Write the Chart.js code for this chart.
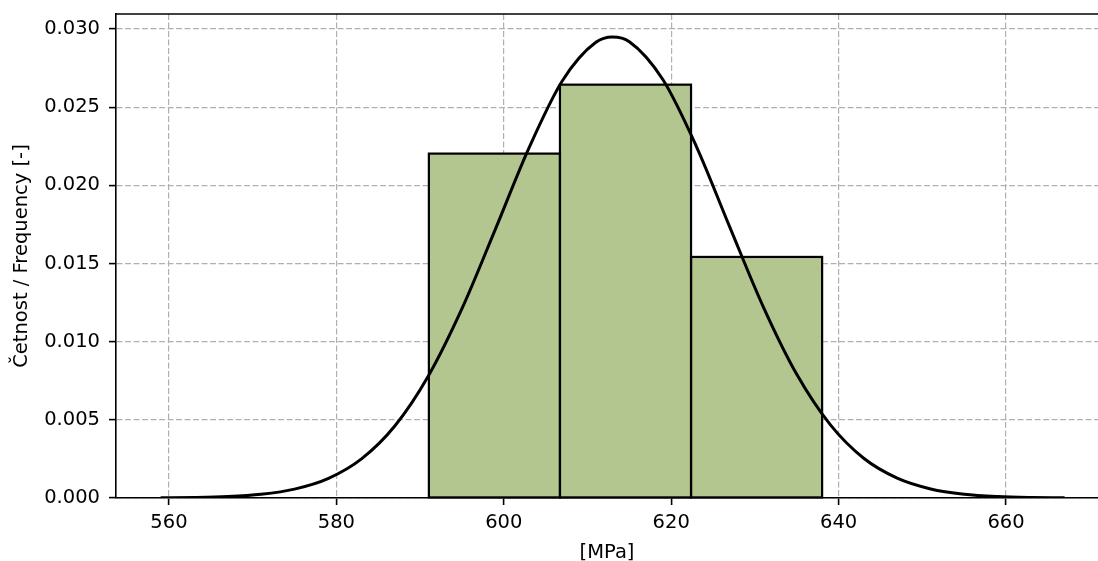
<!DOCTYPE html>
<html><head><meta charset="utf-8">
<script src="https://cdn.jsdelivr.net/npm/chart.js@4/dist/chart.umd.min.js"></script>
<style>html,body{margin:0;padding:0;background:#fff;overflow:hidden}#wrap{width:1098px;height:561px;position:relative}</style>
</head><body><div id="wrap"><canvas id="c"></canvas></div>
<script>
// Histogram bins (centres) and density heights
const binCenters = [598.88, 614.54, 630.20];
const binDensity = [0.02203, 0.02644, 0.01542];
// Fitted curve
const curveX = [559, 563, 567, 571, 575, 579, 583, 587, 591, 595, 599, 603, 607, 611, 613, 615, 619, 623, 627, 631, 635, 639, 643, 647, 651, 655, 659, 663, 667];
const curveY = [0.00001, 0.00003, 0.00009, 0.00024, 0.00057, 0.00124, 0.00250, 0.00462, 0.00782, 0.01211, 0.01720, 0.02238, 0.02669, 0.02915, 0.02949, 0.02919, 0.02677, 0.02250, 0.01733, 0.01223, 0.00791, 0.00469, 0.00254, 0.00127, 0.00058, 0.00024, 0.00009, 0.00003, 0.00001];
const xTicks = [560, 580, 600, 620, 640, 660];
const yTicks = [0, 0.005, 0.010, 0.015, 0.020, 0.025, 0.030];
const xLabel = '[MPa]';
const yLabel = 'Četnost / Frequency [-]';

const FONT = 'DejaVu Sans';
const tickFont = {family: FONT, size: 19.5};
const titleFont = {family: FONT, size: 19.5, lineHeight: 1};

const barEdges = {
  id: 'barEdges',
  afterDatasetDraw(chart, args) {
    if (args.meta.type !== 'bar') return;
    const ctx = chart.ctx;
    ctx.save();
    ctx.lineWidth = 2.2; ctx.strokeStyle = '#000'; ctx.lineJoin = 'miter';
    args.meta.data.forEach(el => {
      const p = el.getProps(['x', 'y', 'base', 'width'], true);
      ctx.strokeRect(p.x - p.width / 2, p.y, p.width, p.base - p.y);
    });
    ctx.restore();
  }
};
const topSpine = {
  id: 'topSpine',
  afterDatasetsDraw(chart) {
    const {ctx, chartArea} = chart;
    ctx.save();
    ctx.lineWidth = 1.6; ctx.strokeStyle = '#000';
    ctx.beginPath();
    ctx.moveTo(chartArea.left - 0.8, chartArea.top);
    ctx.lineTo(chartArea.right + 2, chartArea.top);
    ctx.stroke();
    ctx.restore();
  }
};

new Chart(document.getElementById('c'), {
  type: 'bar',
  data: {
    datasets: [
      {
        type: 'line',
        data: curveX.map((x, i) => ({x: x, y: curveY[i]})),
        borderColor: '#000',
        borderWidth: 3,
        pointRadius: 0,
        fill: false,
        cubicInterpolationMode: 'monotone'
      },
      {
        type: 'bar',
        data: binCenters.map((x, i) => ({x: x, y: binDensity[i]})),
        backgroundColor: 'rgb(180,198,143)',
        borderWidth: 0,
        barPercentage: 1,
        categoryPercentage: 1
      }
    ]
  },
  plugins: [barEdges, topSpine],
  options: {
    responsive: true,
    maintainAspectRatio: false,
    devicePixelRatio: 1,
    animation: false,
    layout: {padding: {top: 14, left: 0, right: 0, bottom: 0}},
    plugins: {legend: {display: false}, tooltip: {enabled: false}},
    scales: {
      x: {
        type: 'linear',
        min: 553.67,
        max: 670.99,
        offset: false,
        grid: {color: '#b0b0b0', lineWidth: 1.2, offset: false, drawTicks: true, tickLength: 7, tickColor: '#000', tickWidth: 1.6, tickBorderDash: []},
        border: {display: true, color: '#000', width: 1.6, dash: [5.9, 2.6], z: 1},
        ticks: {font: tickFont, color: '#000', padding: 6, maxRotation: 0, autoSkip: false, callback: v => String(v)},
        afterBuildTicks: s => { s.ticks = xTicks.map(v => ({value: v})); },
        afterFit: s => { s.height = 63; s.paddingLeft = 0; s.paddingRight = 0; },
        title: {display: true, text: xLabel, font: titleFont, color: '#000', padding: {top: 0, bottom: -2}}
      },
      y: {
        type: 'linear',
        min: 0,
        max: 0.03096,
        grid: {color: '#b0b0b0', lineWidth: 1.2, drawTicks: true, tickLength: 7, tickColor: '#000', tickWidth: 1.6, tickBorderDash: []},
        border: {display: true, color: '#000', width: 1.6, dash: [5.9, 2.6], z: 1},
        ticks: {font: tickFont, color: '#000', padding: 9, callback: v => v.toFixed(3)},
        afterBuildTicks: s => { s.ticks = yTicks.map(v => ({value: v})); },
        afterFit: s => { s.width = 116; s.paddingTop = 0; s.paddingBottom = 0; },
        title: {display: true, text: yLabel, font: titleFont, color: '#000', padding: {top: 12, bottom: 0}}
      }
    }
  }
});
</script></body></html>
